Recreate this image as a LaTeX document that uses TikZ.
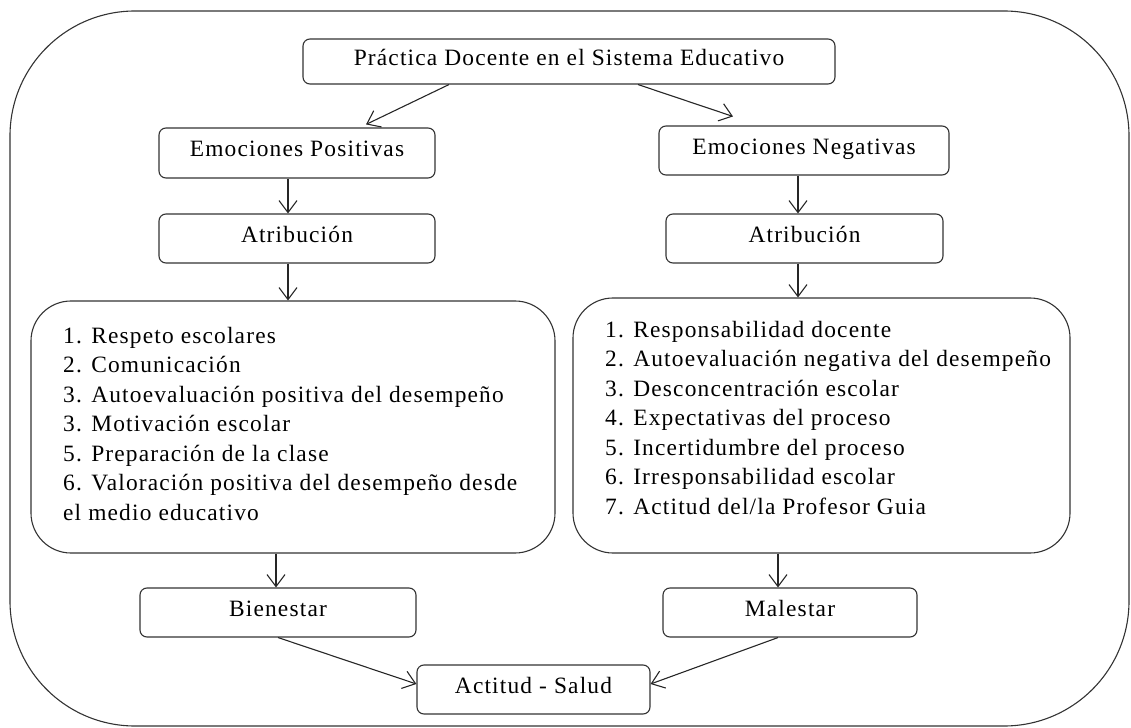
\documentclass[tikz,border=0pt]{standalone}
\usepackage{fontspec}
\setmainfont{Liberation Serif}[LetterSpace=5]
\usetikzlibrary{arrows.meta}

\begin{document}
\begin{tikzpicture}[x=1bp, y=-1bp,
		every node/.style={font=\fontsize{23.5}{29.6}\selectfont},
		caja/.style={draw=black!80, line width=1.1bp, rounded corners=7bp, minimum height=49bp, text height=16bp, text depth=8bp, inner sep=0pt},
		lista/.style={draw=black!80, line width=1.1bp, rounded corners=40bp, inner sep=0pt},
		texto/.style={anchor=north west, align=left, inner sep=0pt},
		flecha/.style={draw=black!85, line width=1.1bp, -{Straight Barb[length=12bp, width=18bp]}}]
		%%%%% START %%%%%
		
		\useasboundingbox (0, 0) rectangle (1131, 728);
		\draw[line width=1.1bp, draw=black!80, rounded corners=125bp] (10, 11) rectangle (1129, 726);
		
		\node[caja, minimum width=532bp, minimum height=45bp] (practica) at (569, 61.5) {Práctica Docente en el Sistema Educativo};
		
		\node[caja, minimum width=276bp, minimum height=50bp] (emopos) at (297, 153) {Emociones Positivas};
		\node[caja, minimum width=290bp] (emoneg) at (804, 150.5) {Emociones Negativas};
		
		\node[caja, minimum width=276bp] (atripos) at (297, 238.5) {Atribución};
		\node[caja, minimum width=277bp] (atrineg) at (804.5, 238.5) {Atribución};
		
		\node[lista, minimum width=524bp, minimum height=252bp] (listapos) at (293, 427) {};
		\node[lista, minimum width=497bp, minimum height=255bp] (listaneg) at (821.5, 425.5) {};
		
		\node[texto] (textopos) at (63, 327) {1. Respeto escolares\\2. Comunicación\\3. Autoevaluación positiva del desempeño\\3. Motivación escolar\\5. Preparación de la clase\\6. Valoración positiva del desempeño desde\\el medio educativo};
		\node[texto] (textoneg) at (605, 321) {1. Responsabilidad docente\\2. Autoevaluación negativa del desempeño\\3. Desconcentración escolar\\4. Expectativas del proceso\\5. Incertidumbre del proceso\\6. Irresponsabilidad escolar\\7. Actitud del/la Profesor Guia};
		
		\node[caja, minimum width=276bp] (bienestar) at (278, 612.5) {Bienestar};
		\node[caja, minimum width=254bp] (malestar) at (790, 612.5) {Malestar};
		
		\node[caja, minimum width=233bp] (salud) at (533.5, 689.5) {Actitud - Salud};
		
		\draw[flecha] ([xshift=-120bp]practica.south) -- ([xshift=69bp, yshift=3bp]emopos.north);
		\draw[flecha] ([xshift=69bp]practica.south) -- ([xshift=-71bp, yshift=9bp]emoneg.north);
		
		\draw[flecha] ([xshift=-9bp]emopos.south) -- ([xshift=-9bp]atripos.north);
		\draw[flecha] ([xshift=-6bp]emoneg.south) -- ([xshift=-6bp]emoneg.south |- atrineg.north);
		
		\draw[flecha] ([xshift=-9bp]atripos.south) -- ([xshift=-9bp]atripos.south |- listapos.north);
		\draw[flecha] ([xshift=-6.5bp]atrineg.south) -- ([xshift=-6.5bp]atrineg.south |- listaneg.north);
		
		\draw[flecha] ([xshift=-2bp]bienestar.north |- listapos.south) -- ([xshift=-2bp]bienestar.north);
		\draw[flecha] ([xshift=-12bp]malestar.north |- listaneg.south) -- ([xshift=-12bp]malestar.north);
		
		\draw[flecha] (bienestar.south) -- ([yshift=5.5bp]salud.west);
		\draw[flecha] ([xshift=-12bp]malestar.south) -- ([yshift=5.5bp]salud.east);
		
		%%%%% END %%%%%
\end{tikzpicture}
\end{document}
